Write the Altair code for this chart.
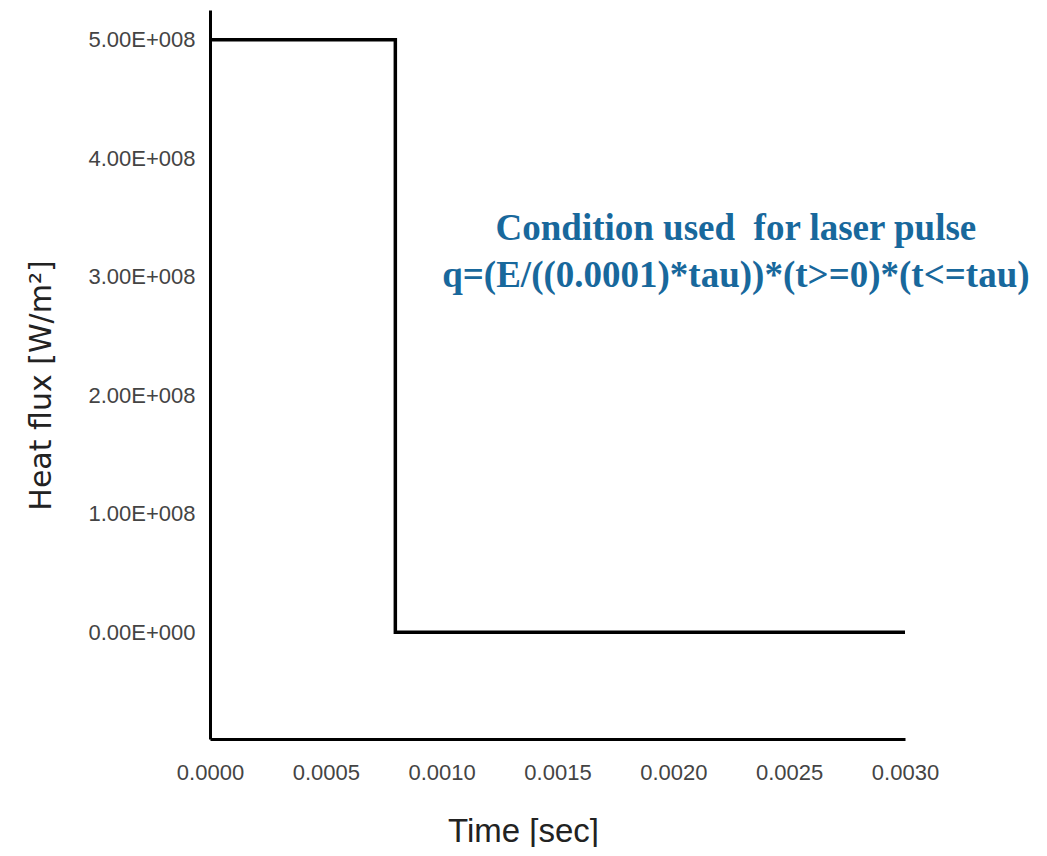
import altair as alt
import pandas as pd

# step pulse data
time_s = [0.0, 0.0008, 0.0008, 0.0030]
heat_flux = [5.0e8, 5.0e8, 0.0, 0.0]
order = [0, 1, 2, 3]

x_ticks = [0.0, 0.0005, 0.0010, 0.0015, 0.0020, 0.0025, 0.0030]
y_ticks = [0.0, 1e8, 2e8, 3e8, 4e8, 5e8]

note_lines = ["Condition used\u00a0 for laser pulse",
              "q=(E/((0.0001)*tau))*(t>=0)*(t<=tau)"]
note_x = [0.00227, 0.00227]
note_y = [3.40e8, 3.01e8]

df = pd.DataFrame({"t": time_s, "q": heat_flux, "o": order})
notes = pd.DataFrame({"text": note_lines, "x": note_x, "y": note_y})

tick_font = "Liberation Sans"

xscale = alt.Scale(domain=[0, 0.003], nice=False, zero=False)
yscale = alt.Scale(domain=[-0.9e8, 5.25e8], nice=False, zero=False)

label_expr = ("datum.value == 0 ? '0.00E+000' : "
              "format(datum.value / pow(10, floor(log(abs(datum.value))/LN10 + 1e-9)), '.2f') + 'E+' + "
              "pad(toString(floor(log(abs(datum.value))/LN10 + 1e-9)), 3, '0', 'left')")

line = alt.Chart(df).mark_line(color="black", strokeWidth=3.5, strokeJoin="miter", strokeCap="butt").encode(
    x=alt.X("t:Q", scale=xscale,
            axis=alt.Axis(title="Time [sec]", values=x_ticks, format=".4f", ticks=False, grid=False,
                          domainColor="black", domainWidth=3,
                          labelFont=tick_font, labelFontSize=22, labelColor="#444444",
                          labelPadding=23, labelFlush=False,
                          titleFont="Liberation Sans", titleFontSize=33, titleFontWeight="normal",
                          titleColor="#222222", titlePadding=32, titleX=313)),
    y=alt.Y("q:Q", scale=yscale,
            axis=alt.Axis(title="Heat flux [W/m²]", values=y_ticks, labelExpr=label_expr, ticks=False,
                          grid=False, domainColor="black", domainWidth=3,
                          labelFont=tick_font, labelFontSize=22, labelColor="#444444",
                          labelPadding=15, labelFlush=False,
                          titleFont="DejaVu Sans", titleFontSize=30, titleFontWeight="normal",
                          titleColor="#222222", titlePadding=31, titleY=375)),
    order="o:Q",
)

text = alt.Chart(notes).mark_text(font="Liberation Serif", fontWeight="bold", fontSize=37,
                                  color="#18689C", align="center", baseline="middle").encode(
    x=alt.X("x:Q", scale=xscale),
    y=alt.Y("y:Q", scale=yscale),
    text="text:N",
)

chart = alt.layer(line, text).properties(
    width=695, height=729,
    autosize=alt.AutoSizeParams(type="none"),
    padding={"left": 202, "top": 2, "right": 130, "bottom": 108},
).configure_view(stroke=None)

chart.save("out.html", embed_options={"renderer": "svg", "actions": False})
